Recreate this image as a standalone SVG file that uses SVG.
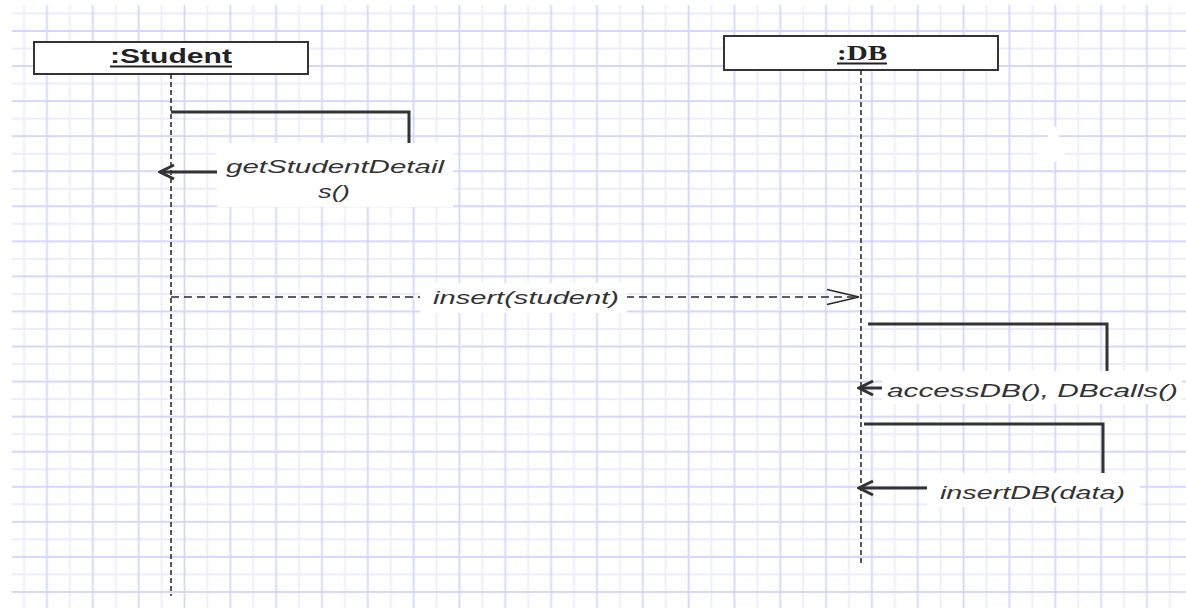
<svg xmlns="http://www.w3.org/2000/svg" width="1186" height="608" viewBox="0 0 1186 608">
  <style>
    .gl { stroke: #ececfe; stroke-width: 1.8; }
    .gd { stroke: #d5d5fd; stroke-width: 1.8; }
    .box { fill: #ffffff; stroke: #333333; stroke-width: 2; }
    .hdr { font-family: "Liberation Sans", Arial, sans-serif; font-weight: bold; font-size: 21px; fill: #222222; }
    .hdrs { font-family: "Liberation Serif", "Times New Roman", serif; font-weight: bold; font-size: 20px; fill: #222222; }
    .ul { stroke: #222222; stroke-width: 2; }
    .life { fill: none; stroke: #222222; stroke-width: 1.5; stroke-dasharray: 5 3; }
    .msg { fill: none; stroke: #333333; stroke-width: 3; }
    .dmsg { fill: none; stroke: #2a2a2a; stroke-width: 1.7; stroke-dasharray: 8 5; }
    .lblbg { fill: #ffffff; }
    .lbl { font-family: "Liberation Sans", Arial, sans-serif; font-style: italic; font-size: 19px; fill: #333333; }
  </style>
  <defs>
    <pattern id="grid" patternUnits="userSpaceOnUse" x="35.54" y="22.23" width="45.83" height="35.06">
      <line class="gl" x1="34.37" y1="0" x2="34.37" y2="35.06"/>
      <line class="gl" x1="0" y1="26.3" x2="45.83" y2="26.3"/>
      <line class="gd" x1="11.46" y1="0" x2="11.46" y2="35.06"/>
      <line class="gd" x1="0" y1="8.77" x2="45.83" y2="8.77"/>
    </pattern>
    <marker id="open" viewBox="0 0 18 18" refX="16" refY="9" markerWidth="18" markerHeight="18" markerUnits="userSpaceOnUse" orient="auto">
      <path d="M2,2 L16,9 L2,16" fill="none" stroke="#333333" stroke-width="3"/>
    </marker>
    <marker id="openthin" viewBox="0 0 36 20" refX="34" refY="10" markerWidth="36" markerHeight="20" markerUnits="userSpaceOnUse" orient="auto">
      <path d="M2,2.5 L34,10 L2,17.5" fill="none" stroke="#2a2a2a" stroke-width="1.7"/>
    </marker>
  </defs>

  <rect x="0" y="0" width="1186" height="608" fill="#ffffff"/>
  <rect x="12" y="5" width="1174" height="603" fill="url(#grid)"/>
  <path d="M1050,125 L1058,128 L1059,138 L1068,143 L1068,151 L1060,158 L1054,163 L1049,160 L1040,158 L1036,152 L1040,145 L1047,140 Z" fill="#ffffff"/>

  <g id="student">
    <rect class="box" x="34" y="42" width="274" height="32"/>
    <text class="hdr" x="110" y="63" textLength="122" lengthAdjust="spacingAndGlyphs">:Student</text>
    <line class="ul" x1="110" y1="66.5" x2="232" y2="66.5"/>
    <line class="life" x1="171" y1="74" x2="171" y2="596"/>
  </g>

  <g id="db">
    <rect class="box" x="724" y="36" width="274" height="34"/>
    <text class="hdrs" x="837" y="60" textLength="50" lengthAdjust="spacingAndGlyphs">:DB</text>
    <line class="ul" x1="837" y1="63.5" x2="887" y2="63.5"/>
    <line class="life" x1="861" y1="70" x2="861" y2="563"/>
  </g>

  <g id="connectors">
    <path class="msg" d="M171,112 L409,112 L409,172 L160,172" marker-end="url(#open)"/>
    <path class="dmsg" d="M171,297 L859,297" marker-end="url(#openthin)"/>
    <path class="msg" d="M868,324 L1107,324 L1107,388 L859,388" marker-end="url(#open)"/>
    <path class="msg" d="M864,424 L1103,424 L1103,488 L859,488" marker-end="url(#open)"/>
  </g>

  <g id="labels">
    <rect class="lblbg" x="217" y="143" width="236" height="64"/>
    <text class="lbl" x="226" y="173" textLength="218" lengthAdjust="spacingAndGlyphs">getStudentDetail</text>
    <text class="lbl" x="318" y="198" textLength="32" lengthAdjust="spacingAndGlyphs">s()</text>

    <rect class="lblbg" x="420" y="283" width="207" height="30"/>
    <text class="lbl" x="433" y="304" textLength="186" lengthAdjust="spacingAndGlyphs">insert(student)</text>

    <rect class="lblbg" x="882" y="371" width="300" height="33"/>
    <text class="lbl" x="887" y="397" textLength="291" lengthAdjust="spacingAndGlyphs">accessDB(), DBcalls()</text>

    <rect class="lblbg" x="927" y="473" width="213" height="34"/>
    <text class="lbl" x="940" y="499" textLength="185" lengthAdjust="spacingAndGlyphs">insertDB(data)</text>
  </g>
</svg>
